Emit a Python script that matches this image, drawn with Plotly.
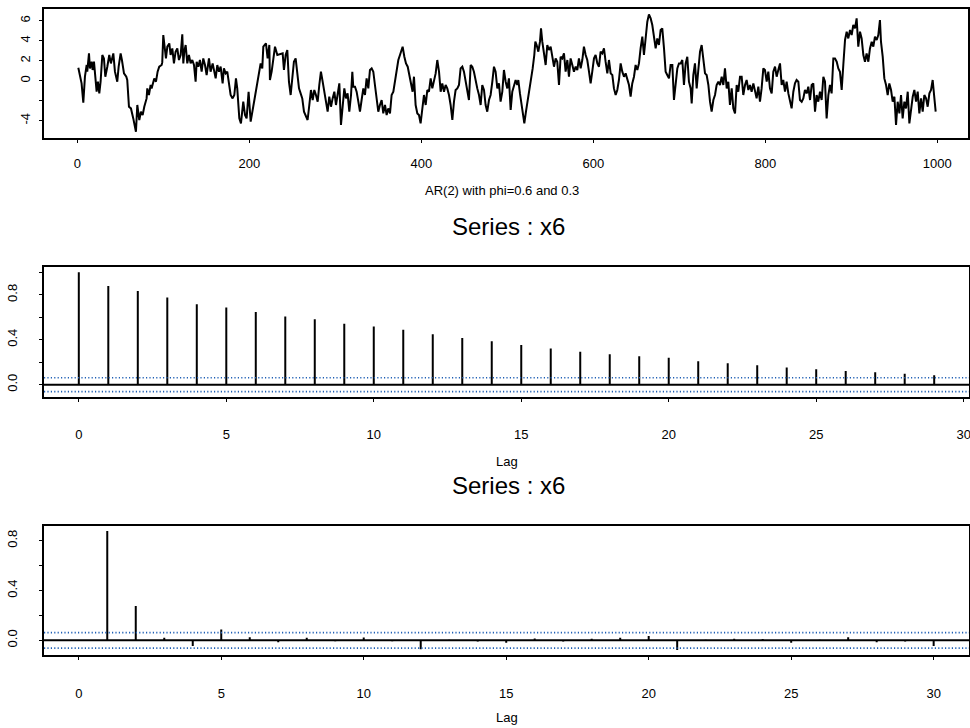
import plotly.graph_objects as go

# ---------------- data ----------------
# AR(2) series x6 (time index, value), traced in four segments
SEG1_T = [1.2, 3.1, 5.0, 7.0, 8.9, 10.9, 11.6, 13.6, 14.7, 16.7, 17.8, 19.4, 20.5, 22.5, 24.0,
          25.6, 27.1, 29.1, 31.0, 32.6, 34.9, 37.2, 39.1, 41.9, 43.8, 46.5, 48.1, 50.4, 51.9, 54.3,
          57.0, 58.1, 60.1, 62.4, 65.1, 68.2, 69.8, 72.1, 74.0, 76.0, 77.9, 80.6, 81.4, 83.3, 85.3,
          86.4, 89.5, 91.5, 93.4, 95.3, 98.1, 98.8, 100.0, 101.9, 103.1, 104.7, 107.0, 108.5, 110.5, 112.4,
          114.3, 116.3, 118.2, 120.2, 122.1, 123.3, 124.4, 126.0, 127.9, 129.8, 131.8, 133.7, 135.7, 137.6, 138.8,
          140.7, 142.6, 144.6, 146.5, 148.5, 150.4, 153.1, 155.0, 157.4, 158.9, 160.9, 162.8, 164.7, 166.7, 169.0,
          170.5, 172.5, 174.4, 176.4, 178.3, 180.6, 182.6, 184.5, 186.0, 188.4, 190.3, 193.0, 195.0, 196.9, 199.2,
          201.6, 203.5, 206.6, 208.9, 210.9, 213.2, 215.1, 216.3, 219.4, 221.3, 223.3, 224.0, 226.0, 229.9, 232.6]
SEG1_V = [1.30, 0.57, -0.27, -2.2, 0.4, 1.57, 0.9, 2.73, 1.23, 1.9, 1.07, 1.9, 0.9, -1.1, -0.1,
          -1.27, -0.1, 2.57, 2.23, 0.4, 1.4, 2.57, 1.73, 2.73, 0.9, -0.1, 1.4, 2.73, 2.07, 0.73,
          0.4, 0.07, -2.6, -2.77, -3.77, -5.1, -2.43, -3.93, -3.1, -3.43, -2.6, -1.77, -0.77, -1.43, -0.43,
          -0.77, 0.23, -0.1, 0.9, 1.4, 1.57, 1.83, 4.57, 3.23, 2.23, 3.4, 3.73, 2.57, 3.23, 1.73,
          2.9, 3.23, 2.07, 2.57, 4.63, 1.73, 2.9, 3.57, 1.73, 2.57, 1.73, 2.07, 1.57, -0.1, 1.9,
          1.4, 2.07, 0.9, 2.23, 1.57, 0.57, 2.23, 0.9, 1.73, 1.07, 0.23, 1.57, 0.9, 1.4, -0.27,
          1.23, 0.73, 0.9, -0.43, -1.43, -1.77, -1.43, 0.23, -0.77, -3.77, -4.27, -2.1, -3.43, -3.77, -1.1,
          -4.1, -3.1, -1.43, -0.43, 0.9, 1.73, 1.23, 3.4, 3.73, 2.23, 3.57, 0.07, 0.9, 3.4, 2.57]

SEG2_T = [238.8, 240.3, 242.3, 244.2, 246.1, 248.1, 250.0, 251.9, 253.9, 255.8,
          257.8, 259.7, 261.6, 263.6, 265.9, 267.8, 269.8, 271.7, 273.7, 275.6,
          277.5, 279.5, 281.4, 283.3, 285.3, 287.2, 289.2, 291.1, 293.0, 295.0,
          296.9, 298.9, 300.8, 302.7, 304.7, 306.6, 308.6, 310.5, 312.4, 314.3,
          316.3, 318.3, 319.8, 320.9, 322.9, 324.8, 326.8, 328.7, 330.6, 332.6,
          334.5, 336.4, 338.4, 340.3, 342.3, 344.2, 346.1, 348.1, 350.0, 351.9,
          353.9, 355.8, 357.8, 359.7, 361.6, 363.6, 365.5, 367.5, 369.4, 371.3,
          373.3, 375.2, 377.1, 378.3, 380.3, 382.2, 384.2, 386.1, 388.0, 389.9,
          391.5, 393.4, 395.4, 397.3, 399.2, 401.2, 403.1, 405.1, 407.0, 408.9,
          410.9, 412.8, 414.7, 416.7, 418.6, 420.6, 422.5, 424.4, 426.4, 428.3,
          430.2, 432.2, 434.1, 436.1, 438.0, 439.9, 441.9, 443.8, 445.7, 447.7,
          449.6, 451.6, 453.5, 455.4, 457.4, 459.3, 461.2, 463.2, 465.1, 467.1,
          469.0, 470.9, 472.9, 474.8, 476.7, 478.7, 480.6, 482.6, 484.5, 486.4,
          488.4, 490.3, 492.2, 494.2, 496.1, 498.1, 500.0, 501.9, 503.9, 505.8,
          507.7, 509.7, 511.6]
SEG2_V = [2.73, 1.07, 2.57, 3.07, -0.1, -1.43, 0.57, 1.9, 2.23, 0.57,
          -0.77, -1.27, -1.77, -3.1, -3.6, -3.93, -2.43, -0.93, -1.93, -0.93,
          -1.43, -2.1, -0.43, 0.9, -0.1, -1.1, -2.43, -3.1, -1.6, -2.6,
          -1.77, -1.1, -2.43, -1.27, -0.27, -4.43, -2.43, -0.77, -1.77, -1.27,
          -3.1, -1.43, 0.9, -0.6, -0.6, -1.1, -2.1, -3.1, -1.93, -0.77,
          -1.43, 0.23, -0.77, 1.07, 1.23, 0.9, -0.43, -1.77, -3.1, -2.43,
          -1.93, -3.27, -2.43, -3.43, -2.77, -3.27, -1.43, -1.1, 0.07, 1.07,
          2.07, 2.57, 3.23, 3.4, 2.4, 1.73, 1.4, 0.57, 0.07, -1.1,
          0.4, -2.43, -3.27, -3.43, -4.27, -2.77, -1.43, -2.43, -0.93, -1.1,
          0.23, -0.77, 0.07, 0.73, 2.07, 0.9, -1.1, -0.27, -1.1, -0.43,
          -0.77, -1.43, -2.43, -3.93, -2.1, -0.93, -0.77, -0.43, 1.23, 1.4,
          0.9, -0.1, -0.77, -1.93, 1.57, 1.4, 0.9, -0.1, -0.77, -1.43,
          -2.43, -0.43, -0.93, -2.43, -3.1, -1.93, -1.43, -0.1, 1.4, 0.9,
          -0.77, -0.27, -2.1, -1.1, 1.07, -0.1, -0.77, 0.23, -2.93, -1.1,
          -0.43, 0.07, -0.43]

SEG3_T = [512.8, 514.7, 516.7, 518.6, 519.8, 521.7, 523.7, 525.6, 527.5, 529.5,
          531.4, 532.6, 534.1, 536.1, 538.0, 539.2, 540.7, 542.6, 544.6, 546.5,
          548.4, 550.4, 552.3, 554.3, 556.2, 558.1, 560.1, 562.0, 564.0, 565.9,
          567.8, 569.8, 571.7, 573.6, 575.6, 577.5, 579.5, 581.4, 583.3, 585.3,
          587.2, 589.1, 591.1, 593.0, 595.0, 596.9, 598.8, 600.8, 602.7, 604.7,
          606.6, 608.5, 610.5, 612.4, 614.3, 616.3, 618.2, 620.2, 622.1, 624.0,
          626.0, 627.9, 629.8, 631.8, 633.7, 635.7, 637.6, 639.5, 641.5, 643.4,
          645.3, 647.3, 649.2, 651.2, 653.1, 655.0, 657.0, 658.9, 660.8, 662.8,
          664.7, 666.7, 668.6, 670.5, 672.5, 674.4, 676.3, 678.3, 680.2, 682.2,
          684.1, 686.0, 688.0, 689.9, 691.9, 693.8, 695.7, 697.7, 699.6, 701.6,
          703.5, 705.4, 707.4, 709.3, 711.2, 713.2, 714.4, 716.3, 718.2, 720.2,
          722.1, 724.1, 726.0, 727.9, 729.9, 731.8, 733.8, 735.7, 737.6, 739.6,
          741.5, 743.4, 745.4, 747.3, 749.3, 751.2, 753.1, 755.1, 757.0, 758.9,
          760.9, 762.8, 764.8, 766.7, 768.6, 770.6]
SEG3_V = [0.07, -1.27, -2.43, -3.27, -4.27, -3.1, -2.1, -0.77, -0.1, 1.23,
          2.57, 3.9, 3.57, 2.9, 3.9, 5.23, 3.9, 2.9, 1.57, 3.57,
          3.07, 3.4, 2.23, 1.4, 2.23, 1.9, -0.43, 2.4, 2.23, 2.73,
          0.9, 2.07, 0.4, 2.23, 1.57, 0.9, 1.4, 1.07, 2.23, 1.23,
          2.07, 3.4, 2.57, 2.07, 0.9, -0.27, 0.9, 2.23, 2.57, 1.73,
          1.4, 2.9, 2.73, 3.23, 1.9, 0.73, 2.07, 0.73, 0.57, -0.77,
          -1.43, -0.93, 0.07, 1.73, 0.9, 0.4, 0.73, 0.07, -0.43, -1.6,
          -0.27, 0.4, 1.57, 1.07, 1.73, 3.23, 4.4, 2.57, 4.07, 5.9,
          6.63, 6.23, 5.57, 4.23, 3.23, 4.23, 3.57, 5.07, 5.23, 3.23,
          0.9, 0.57, 0.23, 1.57, 1.57, -1.93, -0.43, 1.23, 1.73, 1.73,
          2.07, -0.43, 1.73, 2.4, -0.1, -0.77, -2.27, 0.57, 1.73, -0.77,
          1.07, 2.9, 3.57, 1.9, 0.73, 0.57, -0.43, -2.1, -3.1, -1.93,
          -1.43, -0.43, -0.1, -0.43, 0.4, -0.43, 1.23, -0.77, -0.1, -2.43,
          -0.77, -2.77, -3.27, -0.43, -1.1, 0.4]

SEG4_T = [772.5, 774.4, 776.4, 778.3, 780.3, 782.2, 784.1, 786.1, 788.0, 789.9,
          791.9, 793.8, 795.7, 797.7, 799.6, 801.6, 803.5, 805.4, 807.4, 809.3,
          811.3, 813.2, 815.1, 817.1, 819.0, 820.9, 822.9, 824.8, 826.8, 828.7,
          830.6, 832.6, 834.5, 836.4, 838.4, 840.3, 842.3, 844.2, 846.1, 848.1,
          850.0, 852.0, 853.9, 855.8, 857.8, 859.7, 861.6, 863.6, 865.5, 867.5,
          869.4, 871.3, 873.3, 875.2, 877.1, 879.1, 881.0, 883.0, 884.9, 886.8,
          888.8, 890.7, 892.7, 894.6, 896.5, 898.5, 900.4, 902.3, 904.3, 906.2,
          908.1, 910.1, 912.0, 914.0, 915.9, 917.8, 919.8, 921.7, 923.7, 925.6,
          927.5, 929.5, 931.4, 933.3, 934.5, 936.5, 938.4, 940.4, 942.3, 944.2,
          946.2, 948.1, 950.1, 952.0, 953.9, 955.9, 957.8, 959.7, 961.7, 963.6,
          965.6, 967.5, 969.4, 971.4, 973.3, 975.3, 977.2, 979.1, 981.1, 983.0,
          984.9, 986.9, 988.8, 990.8, 992.7, 994.6, 996.6, 998.1]
SEG4_V = [0.4, -1.43, -0.43, 0.07, -0.93, -0.43, -1.1, -0.27, -0.93, -1.77,
          -0.6, -2.1, -0.77, 1.23, 1.07, -0.1, 0.9, -0.77, -1.27, 0.9,
          1.4, 0.4, 1.07, 1.73, -0.43, 0.07, -1.1, -0.1, -1.27, -1.93,
          -2.77, -1.1, -0.27, 0.07, -0.1, -1.93, -2.1, -1.77, -0.93, -1.27,
          -0.6, -1.93, -0.43, -0.27, -3.1, -1.43, -2.1, -1.1, -1.93, 0.4,
          -0.1, -3.77, -1.43, -0.43, -1.27, 2.23, 2.23, 1.9, 1.23, 0.9,
          -0.93, 1.57, 4.07, 4.9, 4.23, 5.07, 4.57, 5.57, 5.23, 6.23,
          3.4, 4.9, 4.23, 2.57, 1.9, 2.73, 1.9, 3.23, 3.9, 3.4,
          4.4, 4.07, 4.57, 6.07, 3.9, 2.4, 0.23, -0.43, -1.43, -0.27,
          -0.93, -2.1, -1.6, -4.43, -2.1, -3.27, -1.43, -3.77, -2.1, -2.77,
          -1.1, -4.27, -2.77, -1.6, -0.93, -2.1, -1.1, -3.27, -1.77, -3.1,
          -1.43, -1.77, -2.6, -1.27, -0.93, 0.07, -1.77, -3.1]

ACF_LAG = list(range(0, 30))
ACF_VAL = [1.000, 0.878, 0.834, 0.777, 0.715, 0.688, 0.647, 0.608, 0.582, 0.543,
           0.519, 0.490, 0.448, 0.415, 0.386, 0.353, 0.323, 0.294, 0.270, 0.252,
           0.240, 0.208, 0.190, 0.172, 0.154, 0.137, 0.122, 0.110, 0.098, 0.083]

PACF_LAG = list(range(1, 31))
PACF_VAL = [0.878, 0.276, 0.020, -0.045, 0.088, 0.024, -0.015, 0.020, -0.008, 0.022,
            -0.008, -0.072, 0.005, -0.010, -0.020, 0.015, -0.010, 0.012, 0.020, 0.035,
            -0.078, 0.005, 0.012, 0.010, -0.020, 0.004, 0.025, -0.015, -0.010, -0.045]

CONF_BAND = 0.062

TS_XTICKS = [0, 200, 400, 600, 800, 1000]
TS_YTICKS = [-4, -2, 0, 2, 4, 6]
TS_YTEXT = ["-4", "", "0", "2", "4", "6"]
ACF_YTICKS = [0.0, 0.2, 0.4, 0.6, 0.8, 1.0]
ACF_YTEXT = ["0.0", "", "0.4", "", "0.8", ""]
PACF_YTICKS = [0.0, 0.2, 0.4, 0.6, 0.8]
PACF_YTEXT = ["0.0", "", "0.4", "", "0.8"]
LAG_TICKS = [0, 5, 10, 15, 20, 25, 30]

TITLE_TS = "AR(2) with phi=0.6 and 0.3"
TITLE_ACF = "Series : x6"
XLABEL_LAG = "Lag"

# ---------------- build ----------------
series_t = SEG1_T + SEG2_T + SEG3_T + SEG4_T
series_v = SEG1_V + SEG2_V + SEG3_V + SEG4_V
assert len(series_t) == len(series_v), (len(series_t), len(series_v))


def stems(lags, vals):
    xs, ys = [], []
    for l, v in zip(lags, vals):
        xs += [l, l, None]
        ys += [0, v, None]
    return xs, ys


FONT = "Liberation Sans, Arial, Helvetica, sans-serif"
BLACK = "black"
DOT_BLUE = "#1f5fb4"

fig = go.Figure()

fig.add_trace(go.Scatter(x=series_t, y=series_v, mode="lines",
                         line=dict(color=BLACK, width=2),
                         xaxis="x", yaxis="y", hoverinfo="skip", showlegend=False))

ax_, ay_ = stems(ACF_LAG, ACF_VAL)
fig.add_trace(go.Scatter(x=ax_, y=ay_, mode="lines", line=dict(color=BLACK, width=2),
                         xaxis="x2", yaxis="y2", hoverinfo="skip", showlegend=False))

px_, py_ = stems(PACF_LAG, PACF_VAL)
fig.add_trace(go.Scatter(x=px_, y=py_, mode="lines", line=dict(color=BLACK, width=2),
                         xaxis="x3", yaxis="y3", hoverinfo="skip", showlegend=False))

# zero lines and confidence bands
for xr, yr in (("x2", "y2"), ("x3", "y3")):
    fig.add_shape(type="line", xref=f"{xr} domain", yref=yr, x0=0, x1=1, y0=0, y1=0,
                  line=dict(color=BLACK, width=2), layer="above")
    for c in (CONF_BAND, -CONF_BAND):
        fig.add_shape(type="line", xref=f"{xr} domain", yref=yr, x0=0, x1=1, y0=c, y1=c,
                      line=dict(color=DOT_BLUE, width=1.6, dash="1.2px,2.2px"), layer="above")

W, H = 970, 728
XL, XR_TS, XR_ACF = 44 / W, 967.5 / W, 969 / W


def base_axis(**kw):
    d = dict(showline=True, linecolor=BLACK, linewidth=2, mirror=True,
             ticks="outside", ticklen=3, tickwidth=1, tickcolor=BLACK,
             showgrid=False, zeroline=False, automargin=False,
             ticklabeloverflow="allow",
             tickfont=dict(family=FONT, size=13, color=BLACK))
    d.update(kw)
    return d


fig.update_layout(
    width=W, height=H, margin=dict(l=0, r=0, t=0, b=0, autoexpand=False),
    paper_bgcolor="white", plot_bgcolor="white", showlegend=False,
    xaxis=base_axis(domain=[XL, XR_TS], range=[-38.7, 1035.1], tickvals=TS_XTICKS,
                    ticklabelstandoff=9, anchor="y"),
    yaxis=base_axis(domain=[(H - 138.3) / H, (H - 9) / H], range=[-5.76, 7.17],
                    tickvals=TS_YTICKS, ticktext=TS_YTEXT, tickangle=-90,
                    ticklabelstandoff=4, anchor="x"),
    xaxis2=base_axis(domain=[XL, XR_ACF], range=[-1.18, 30.18], tickvals=LAG_TICKS,
                     ticklabelstandoff=22, anchor="y2"),
    yaxis2=base_axis(domain=[(H - 396.7) / H, (H - 267.3) / H], range=[-0.107, 1.045],
                     tickvals=ACF_YTICKS, ticktext=ACF_YTEXT, tickangle=-90,
                     ticklabelstandoff=17, anchor="x2"),
    xaxis3=base_axis(domain=[XL, XR_ACF], range=[-1.22, 31.24], tickvals=LAG_TICKS,
                     ticklabelstandoff=22, anchor="y3"),
    yaxis3=base_axis(domain=[(H - 655.3) / H, (H - 526) / H], range=[-0.120, 0.918],
                     tickvals=PACF_YTICKS, ticktext=PACF_YTEXT, tickangle=-90,
                     ticklabelstandoff=17, anchor="x3"),
)

ann = [
    dict(text=TITLE_TS, x=502 / W, y=(H - 190.7) / H, size=13),
    dict(text=TITLE_ACF, x=508 / W, y=(H - 226) / H, size=24),
    dict(text=XLABEL_LAG, x=507 / W, y=(H - 461) / H, size=13),
    dict(text=TITLE_ACF, x=508 / W, y=(H - 485) / H, size=24),
    dict(text=XLABEL_LAG, x=507 / W, y=(H - 717) / H, size=13),
]
for a in ann:
    fig.add_annotation(text=a["text"], x=a["x"], y=a["y"], xref="paper", yref="paper",
                       xanchor="center", yanchor="middle", showarrow=False,
                       font=dict(family=FONT, size=a["size"], color=BLACK))

# remove the browser's default page margin so the figure sits at the window origin
fig.write_html("out.html",
               config={"displayModeBar": False},
               post_script="document.body.style.margin='0';document.body.style.overflow='hidden';")
